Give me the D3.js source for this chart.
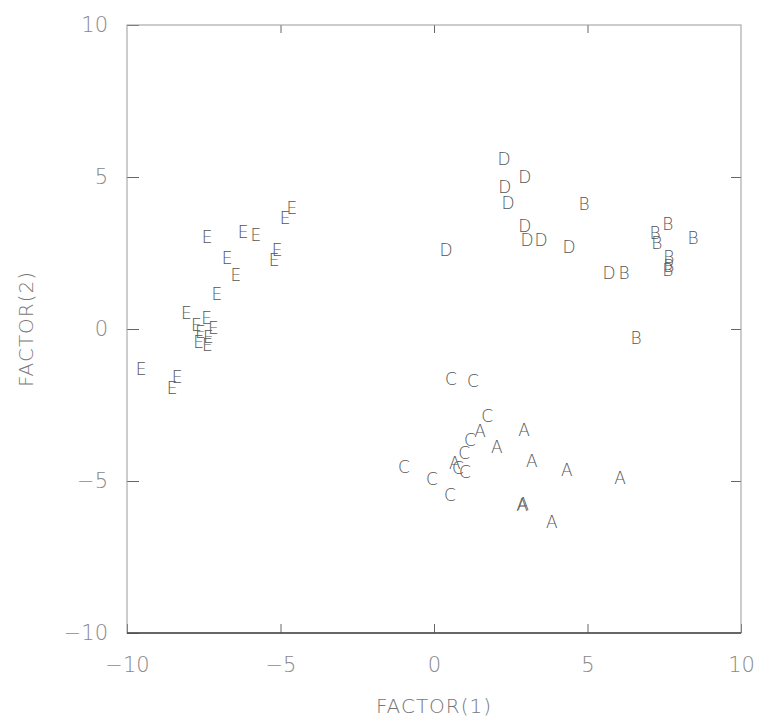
<!DOCTYPE html>
<html>
<head>
<meta charset="utf-8">
<script src="https://cdn.jsdelivr.net/npm/d3@7"></script>
<style>
  body { margin: 0; background: #fff; }
  svg text { font-family: "DejaVu Sans", sans-serif; font-weight: 200; }
</style>
</head>
<body>
<svg id="chart" width="758" height="723"></svg>
<script>
// factor scores, one array per group: [factor1, factor2]
const groupA = [[2.93, -3.32], [3.19, -4.34], [4.33, -4.64], [6.06, -4.90], [2.87, -5.79],
    [2.90, -5.75], [3.84, -6.35], [1.50, -3.36], [2.05, -3.88], [0.68, -4.41]];
const groupB = [[4.89, 4.11], [7.62, 3.45], [7.20, 3.16], [7.26, 2.83], [8.44, 2.99],
    [7.65, 2.37], [7.65, 2.07], [7.62, 1.94], [6.58, -0.30], [6.19, 1.84]];
const groupC = [[-0.98, -4.54], [-0.07, -4.93], [0.52, -5.46], [0.55, -1.64], [1.27, -1.71],
    [1.73, -2.86], [1.17, -3.65], [0.98, -4.08], [0.78, -4.57], [1.01, -4.70]];
const groupD = [[2.28, 5.59], [2.96, 5.00], [2.31, 4.67], [2.41, 4.14], [2.96, 3.39],
    [3.03, 2.93], [3.49, 2.93], [4.40, 2.70], [0.39, 2.60], [5.70, 1.84]];
const groupE = [[-9.54, -1.32], [-8.37, -1.58], [-8.53, -1.94], [-8.07, 0.53], [-7.41, 0.36],
    [-7.74, 0.13], [-7.19, 0.03], [-7.61, -0.10], [-7.35, -0.26], [-7.67, -0.43],
    [-7.38, -0.53], [-7.07, 1.15], [-7.39, 3.03], [-6.74, 2.34], [-6.45, 1.78],
    [-6.22, 3.19], [-5.80, 3.09], [-5.11, 2.60], [-5.21, 2.27], [-4.63, 3.98], [-4.85, 3.65]];

const groups = [
    { label: "A", points: groupA },
    { label: "B", points: groupB },
    { label: "C", points: groupC },
    { label: "D", points: groupD },
    { label: "E", points: groupE }
];
const tickValues = [-10, -5, 0, 5, 10];

const svg = d3.select("#chart");
const plotLeft = 127, plotRight = 741, plotTop = 25, plotBottom = 633;

const x = d3.scaleLinear().domain([-10, 10]).range([plotLeft, plotRight]);
const y = d3.scaleLinear().domain([-10, 10]).range([plotBottom, plotTop]);

const fmt = d => d < 0 ? "\u2212" + Math.abs(d) : String(d);

function styleAxis(g) {
    g.select(".domain").remove();
    g.selectAll(".tick line").attr("stroke", "#666").attr("stroke-width", 1);
    g.selectAll(".tick text")
        .attr("fill", "#888")
        .style("font-size", "21px")
        .style("font-family", "'DejaVu Sans', sans-serif")
        .style("font-weight", 200);
}

// bottom / left axes with labels, inward ticks
svg.append("g").attr("transform", `translate(0,${plotBottom})`)
    .call(d3.axisBottom(x).tickValues(tickValues).tickSize(-9).tickPadding(24).tickFormat(fmt))
    .call(styleAxis);
svg.append("g").attr("transform", `translate(${plotLeft},0)`)
    .call(d3.axisLeft(y).tickValues(tickValues).tickSize(-12).tickPadding(19).tickFormat(fmt))
    .call(styleAxis);
// top / right axes: ticks only
svg.append("g").attr("transform", `translate(0,${plotTop})`)
    .call(d3.axisTop(x).tickValues(tickValues.slice(1, -1)).tickSize(-8).tickFormat(""))
    .call(styleAxis);
svg.append("g").attr("transform", `translate(${plotRight},0)`)
    .call(d3.axisRight(y).tickValues(tickValues.slice(1, -1)).tickSize(-10).tickFormat(""))
    .call(styleAxis);

// frame
svg.append("rect")
    .attr("x", plotLeft).attr("y", plotTop)
    .attr("width", plotRight - plotLeft).attr("height", plotBottom - plotTop)
    .attr("fill", "none").attr("stroke", "#999").attr("stroke-width", 1);
svg.append("line")
    .attr("x1", plotLeft).attr("x2", plotRight).attr("y1", plotBottom).attr("y2", plotBottom)
    .attr("stroke", "#444").attr("stroke-width", 1.5);

// letter markers
const marks = svg.append("g").attr("class", "marks");
groups.forEach(grp => {
    marks.selectAll(null)
        .data(grp.points)
        .join("text")
        .attr("x", d => x(d[0]))
        .attr("y", d => y(d[1]))
        .attr("text-anchor", "middle")
        .attr("dominant-baseline", "central")
        .attr("fill", "#555")
        .style("font-size", "17px")
        .text(grp.label);
});

// axis titles
svg.append("text")
    .attr("x", (plotLeft + plotRight) / 2).attr("y", 706)
    .attr("text-anchor", "middle").attr("dominant-baseline", "central")
    .attr("fill", "#777").style("font-size", "20px").style("letter-spacing", "1px")
    .text("FACTOR(1)");
svg.append("text")
    .attr("transform", `translate(26,${(plotTop + plotBottom) / 2}) rotate(-90)`)
    .attr("text-anchor", "middle").attr("dominant-baseline", "central")
    .attr("fill", "#777").style("font-size", "20px").style("letter-spacing", "1px")
    .text("FACTOR(2)");
</script>
</body>
</html>
